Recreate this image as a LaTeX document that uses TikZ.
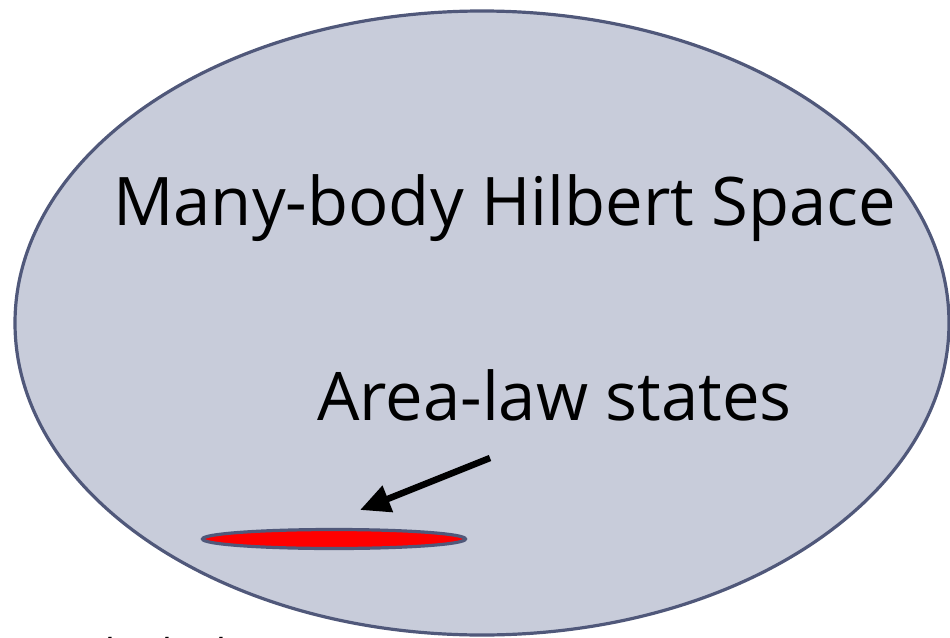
\documentclass[tikz,border=0pt]{standalone}
\usepackage{fontspec}
\setmainfont{Open Sans}
\usepackage{tikz}
\usetikzlibrary{arrows.meta,positioning,shapes.geometric}
\definecolor{cSpace}{RGB}{200,204,218}
\definecolor{cEdge}{RGB}{80,88,122}
\definecolor{cArea}{RGB}{255,0,0}
\tikzset{
  space/.style={ellipse, draw=cEdge, fill=cSpace, line width=3.2pt, inner sep=0pt},
  area/.style={ellipse, draw=cEdge, fill=cArea, line width=3.2pt, inner sep=0pt},
  big/.style={font=\fontsize{67}{80}\selectfont, inner sep=0pt, anchor=base west},
  arr/.style={-{Triangle[length=30pt,width=27pt]}, line width=6.5pt},
}

\begin{document}
\begin{tikzpicture}[x=1pt,y=1pt]
  \clip (0,0) rectangle (950,-637);
  \node[space, minimum width=934pt, minimum height=624pt] (hs) at (482,-323) {};
  \node[area, minimum width=263pt, minimum height=19pt] (al) at (334,-539) {};

  \node[big] (hslbl) at (113,-225) {Many-body Hilbert Space};
  \node[big] (allbl) at (317,-420) {Area-law states};
  \node[big] (cut) at (100,-681) {t\hspace{33.5pt}t\hspace{30.5pt}t};

  \coordinate (tail) at (490,-458);
  \coordinate (tip) at (360,-510);
  \draw[arr] (tail) -- (tip);
\end{tikzpicture}
\end{document}
